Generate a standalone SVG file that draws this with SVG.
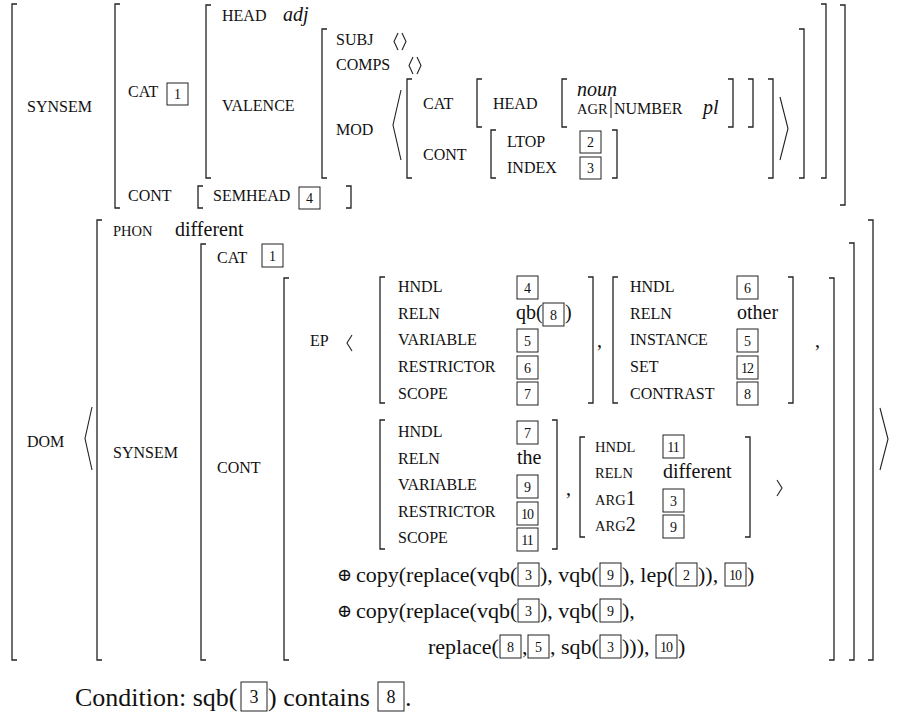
<svg xmlns="http://www.w3.org/2000/svg" width="897" height="719" viewBox="0 0 897 719">
<style>
text{font-family:"Liberation Serif","Times New Roman",serif;fill:#111;font-size:16px}
.s{font-size:14.5px}
.r{font-size:20px}
.i{font-size:20px;font-style:italic}
.c{font-size:22px}
.k{font-size:26px}
.o{font-family:"DejaVu Serif","Liberation Serif",serif;font-size:18px}
.d{font-size:14px;text-anchor:middle}
.dd{font-size:14px;text-anchor:middle;letter-spacing:-1px}
.dk{font-size:18px;text-anchor:middle}
.b{fill:none;stroke:#222;stroke-width:1.3}
.a{fill:none;stroke:#222;stroke-width:1.1}
.x{fill:none;stroke:#222;stroke-width:1}
</style>
<rect width="897" height="719" fill="#fff"/>
<g id="brackets">
<path class="b" d="M17 4H12V660H17"/>
<path class="b" d="M120 4H115V208H120"/>
<path class="b" d="M211 5H206V178H211"/>
<path class="b" d="M327 29H322V178H327"/>
<path class="b" d="M412 79H407V178H412"/>
<path class="b" d="M482 79H477V127H482"/>
<path class="b" d="M567 79H562V127H567"/>
<path class="b" d="M496 130H491V178H496"/>
<path class="b" d="M203 186H198V208H203"/>
<path class="b" d="M102 220H97V660H102"/>
<path class="b" d="M206 244H201V660H206"/>
<path class="b" d="M289 278H284V660H289"/>
<path class="b" d="M385 277H380V403H385"/>
<path class="b" d="M618 277H613V403H618"/>
<path class="b" d="M385 420H380V549H385"/>
<path class="b" d="M585 437H580V537H585"/>
<path class="b" d="M728 79H733V127H728"/>
<path class="b" d="M748 79H753V127H748"/>
<path class="b" d="M612 130H617V178H612"/>
<path class="b" d="M768 79H773V178H768"/>
<path class="b" d="M799 29H804V178H799"/>
<path class="b" d="M821 4H826V178H821"/>
<path class="b" d="M840 5H845V205H840"/>
<path class="b" d="M346 186H351V208H346"/>
<path class="b" d="M588 277H593V403H588"/>
<path class="b" d="M788 277H793V403H788"/>
<path class="b" d="M552 420H557V549H552"/>
<path class="b" d="M745 437H750V537H745"/>
<path class="b" d="M829 278H834V660H829"/>
<path class="b" d="M849 243H854V660H849"/>
<path class="b" d="M868 220H873V660H868"/>
</g>
<g id="angles">
<path class="a" d="M401 90L393 125L401 160"/>
<path class="a" d="M780 97L788 128.5L780 160"/>
<path class="a" d="M92 407L85 438.5L92 470"/>
<path class="a" d="M880 408L888 439L880 470"/>
<path class="a" d="M352 335L347 343L352 351"/>
<path class="a" d="M777 480L782 488L777 496"/>
<path class="a" d="M398 33L394 41.5L398 50M402 33L406 41.5L402 50"/>
<path class="a" d="M413 57L409 65.5L413 74M417 57L421 65.5L417 74"/>
<path class="a" d="M611 97V118"/>
</g>
<g id="top">
<text x="27" y="112">SYNSEM</text>
<text x="128" y="97">CAT</text>
<rect class="x" x="167" y="83" width="21" height="22"/><text class="d" x="177.5" y="99">1</text>
<text x="222" y="21">HEAD</text><text class="i" x="283" y="21">adj</text>
<text x="222" y="111">VALENCE</text>
<text x="336" y="45">SUBJ</text>
<text x="336" y="70">COMPS</text>
<text x="336" y="135">MOD</text>
<text x="423" y="109">CAT</text>
<text x="493" y="109">HEAD</text>
<text class="i" x="577" y="96">noun</text>
<text class="s" x="577" y="114">AGR</text>
<text x="614" y="114">NUMBER</text>
<text class="i" x="703" y="114">pl</text>
<text x="423" y="160">CONT</text>
<text x="507" y="147">LTOP</text>
<rect class="x" x="580" y="131" width="21" height="22"/><text class="d" x="590.5" y="147">2</text>
<text x="507" y="173">INDEX</text>
<rect class="x" x="580" y="157" width="21" height="22"/><text class="d" x="590.5" y="173">3</text>
<text x="128" y="201">CONT</text>
<text x="213" y="201">SEMHEAD</text>
<rect class="x" x="299" y="187" width="21" height="22"/><text class="d" x="309.5" y="203">4</text>
</g>
<g id="dom">
<text x="27" y="447">DOM</text>
<text class="s" x="113" y="236">PHON</text><text class="r" x="175" y="236">different</text>
<text x="113" y="458">SYNSEM</text>
<text x="217" y="263">CAT</text>
<rect class="x" x="262" y="244" width="21" height="23"/><text class="d" x="272.5" y="261">1</text>
<text x="217" y="473">CONT</text>
<text x="310" y="346">EP</text>
</g>
<g id="ep1">
<text x="398" y="292">HNDL</text>
<text x="398" y="318.7">RELN</text>
<text x="398" y="345.3">VARIABLE</text>
<text x="398" y="372">RESTRICTOR</text>
<text x="398" y="398.7">SCOPE</text>
<rect class="x" x="517" y="276" width="21" height="23"/><text class="d" x="527.5" y="293">4</text>
<text class="r" x="516" y="318.7">qb(</text>
<rect class="x" x="543" y="303" width="21" height="23"/><text class="d" x="553.5" y="320">8</text>
<text class="r" x="565" y="318.7">)</text>
<rect class="x" x="517" y="329" width="21" height="23"/><text class="d" x="527.5" y="346">5</text>
<rect class="x" x="517" y="356" width="21" height="23"/><text class="d" x="527.5" y="373">6</text>
<rect class="x" x="517" y="382" width="21" height="23"/><text class="d" x="527.5" y="399">7</text>
<text class="r" x="597" y="347">,</text>
</g>
<g id="ep2">
<text x="630" y="292">HNDL</text>
<text x="630" y="318.7">RELN</text>
<text x="630" y="345.3">INSTANCE</text>
<text x="630" y="372">SET</text>
<text x="630" y="398.7">CONTRAST</text>
<rect class="x" x="737" y="276" width="21" height="23"/><text class="d" x="747.5" y="293">6</text>
<text class="r" x="737" y="318.7">other</text>
<rect class="x" x="737" y="329" width="21" height="23"/><text class="d" x="747.5" y="346">5</text>
<rect class="x" x="737" y="356" width="21" height="23"/><text class="dd" x="747" y="373">12</text>
<rect class="x" x="737" y="382" width="21" height="23"/><text class="d" x="747.5" y="399">8</text>
<text class="r" x="815" y="347">,</text>
</g>
<g id="ep3">
<text x="398" y="437">HNDL</text>
<text x="398" y="463.5">RELN</text>
<text x="398" y="490">VARIABLE</text>
<text x="398" y="516.5">RESTRICTOR</text>
<text x="398" y="543">SCOPE</text>
<rect class="x" x="517" y="421" width="21" height="23"/><text class="d" x="527.5" y="438">7</text>
<text class="r" x="517" y="463.5">the</text>
<rect class="x" x="517" y="475" width="21" height="23"/><text class="d" x="527.5" y="492">9</text>
<rect class="x" x="517" y="502" width="21" height="23"/><text class="dd" x="527" y="519">10</text>
<rect class="x" x="517" y="528" width="21" height="23"/><text class="dd" x="527" y="545">11</text>
<text class="r" x="566" y="495">,</text>
</g>
<g id="ep4">
<text class="s" x="595" y="452">HNDL</text>
<text class="s" x="595" y="478">RELN</text>
<text class="s" x="595" y="505">ARG<tspan class="r">1</tspan></text>
<text class="s" x="595" y="531">ARG<tspan class="r">2</tspan></text>
<rect class="x" x="663" y="435" width="21" height="23"/><text class="dd" x="673" y="452">11</text>
<text class="r" x="663" y="478">different</text>
<rect class="x" x="663" y="489" width="21" height="23"/><text class="d" x="673.5" y="506">3</text>
<rect class="x" x="663" y="515" width="21" height="23"/><text class="d" x="673.5" y="532">9</text>
</g>
<g id="copy">
<text class="o" x="337" y="581">⊕</text>
<text class="c" x="356" y="582">copy(replace(vqb(</text>
<rect class="x" x="518" y="563" width="21" height="23"/><text class="d" x="528.5" y="580">3</text>
<text class="c" x="540" y="582">), vqb(</text>
<rect class="x" x="600" y="563" width="21" height="23"/><text class="d" x="610.5" y="580">9</text>
<text class="c" x="622" y="582">), lep(</text>
<rect class="x" x="676" y="563" width="21" height="23"/><text class="d" x="686.5" y="580">2</text>
<text class="c" x="698" y="582">)),</text>
<rect class="x" x="725" y="563" width="21" height="23"/><text class="dd" x="735" y="580">10</text>
<text class="c" x="747" y="582">)</text>
<text class="o" x="337" y="617">⊕</text>
<text class="c" x="356" y="618">copy(replace(vqb(</text>
<rect class="x" x="518" y="599" width="21" height="23"/><text class="d" x="528.5" y="616">3</text>
<text class="c" x="540" y="618">), vqb(</text>
<rect class="x" x="600" y="599" width="21" height="23"/><text class="d" x="610.5" y="616">9</text>
<text class="c" x="622" y="618">),</text>
<text class="c" x="428" y="654">replace(</text>
<rect class="x" x="500" y="635" width="21" height="23"/><text class="d" x="510.5" y="652">8</text>
<text class="c" x="522" y="654">,</text>
<rect class="x" x="528" y="635" width="21" height="23"/><text class="d" x="538.5" y="652">5</text>
<text class="c" x="550" y="654">, sqb(</text>
<rect class="x" x="600" y="635" width="21" height="23"/><text class="d" x="610.5" y="652">3</text>
<text class="c" x="622" y="654">))),</text>
<rect class="x" x="656" y="635" width="21" height="23"/><text class="dd" x="666" y="652">10</text>
<text class="c" x="678" y="654">)</text>
</g>
<g id="condition">
<text class="k" x="75" y="706">Condition: sqb(</text>
<rect class="x" x="241" y="682" width="26" height="29"/><text class="dk" x="254" y="703">3</text>
<text class="k" x="268" y="706">) contains</text>
<rect class="x" x="378" y="682" width="26" height="29"/><text class="dk" x="391" y="703">8</text>
<text class="k" x="405" y="706">.</text>
</g>
</svg>
